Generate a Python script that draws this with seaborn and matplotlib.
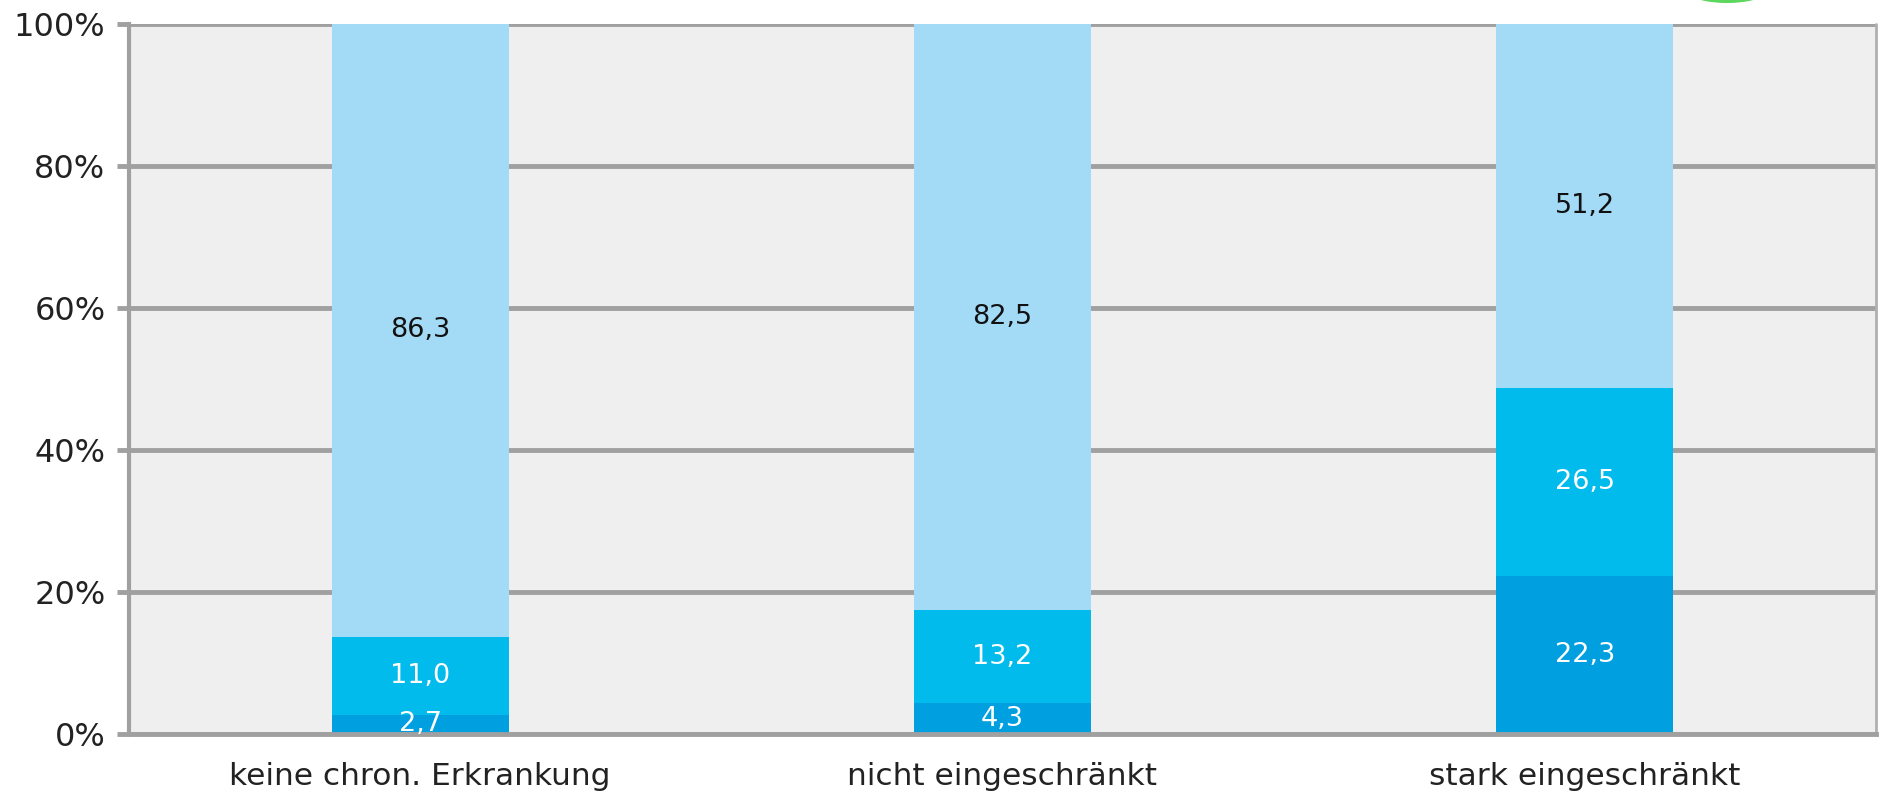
import matplotlib
matplotlib.use("Agg")
import matplotlib.pyplot as plt
from matplotlib.patches import Ellipse
import seaborn as sns
import numpy as np
import pandas as pd

categories = ["keine chron. Erkrankung", "nicht eingeschränkt", "stark eingeschränkt"]
bottom_vals = [2.7, 4.3, 22.3]
middle_vals = [11.0, 13.2, 26.5]
top_vals = [86.3, 82.5, 51.2]
y_ticks = [0, 20, 40, 60, 80, 100]
y_tick_labels = ["0%", "20%", "40%", "60%", "80%", "100%"]

colors = {"bottom": "#009FE0", "middle": "#00BBEC", "top": "#A3DAF6"}
label_colors = {"bottom": "white", "middle": "white", "top": "#111111"}

sns.set_theme(style="white")
plt.rcParams["font.family"] = ["DejaVu Sans"]

fig = plt.figure(figsize=(18.79, 7.98), dpi=100)
ax = fig.add_axes([129 / 1879, 1 - 734 / 798, 1747 / 1879, 710 / 798])
ax.set_facecolor("#EFEFEF")

b = np.array(bottom_vals)
m = np.array(middle_vals)
t = np.array(top_vals)
layers = [
    ("top", b + m + t, t, b + m),
    ("middle", b + m, m, b),
    ("bottom", b, b, np.zeros_like(b)),
]

# Stacked bars drawn as overlapping cumulative totals
for name, cum, seg, base in layers:
    df = pd.DataFrame({"cat": categories, "val": cum})
    sns.barplot(data=df, x="cat", y="val", color=colors[name], width=0.304,
                saturation=1, ax=ax, zorder=3, linewidth=0)
    for i, (v, s0) in enumerate(zip(seg, base)):
        ax.text(i, s0 + v / 2, f"{v:.1f}".replace(".", ","), ha="center", va="center",
                fontsize=19.5, color=label_colors[name], zorder=5)

ax.set_xlim(-0.5, 2.5)
ax.set_ylim(0, 100)
ax.set_yticks(y_ticks)
ax.set_yticklabels(y_tick_labels)
ax.set_xlabel("")
ax.set_ylabel("")
ax.yaxis.grid(True, color="#A0A0A0", linewidth=3.5, zorder=1)
ax.set_axisbelow(True)
ax.tick_params(axis="y", length=9, width=3.5, color="#A0A0A0", pad=8,
               labelsize=23, labelcolor="#222222", left=True)
ax.tick_params(axis="x", length=0, pad=20, labelsize=22.5, labelcolor="#222222")

for side in ["top", "right"]:
    ax.spines[side].set_visible(False)
ax.spines["left"].set_color("#A0A0A0")
ax.spines["left"].set_linewidth(3)
ax.spines["bottom"].set_color("#A0A0A0")
ax.spines["bottom"].set_linewidth(3.5)
ax.spines["bottom"].set_zorder(4)

# thin border on the right edge of the plotting area
ax.axvline(2.5, color="#B0B0B0", linewidth=2, zorder=2, clip_on=False)

# small green logo edge peeking in at the top
fig.patches.append(Ellipse((1727 / 1879, 1 + 6 / 798), 70 / 1879, 18 / 798,
                           transform=fig.transFigure, facecolor="#4CD34C",
                           edgecolor="none", alpha=0.9))

fig.savefig("out.png", dpi=100)
